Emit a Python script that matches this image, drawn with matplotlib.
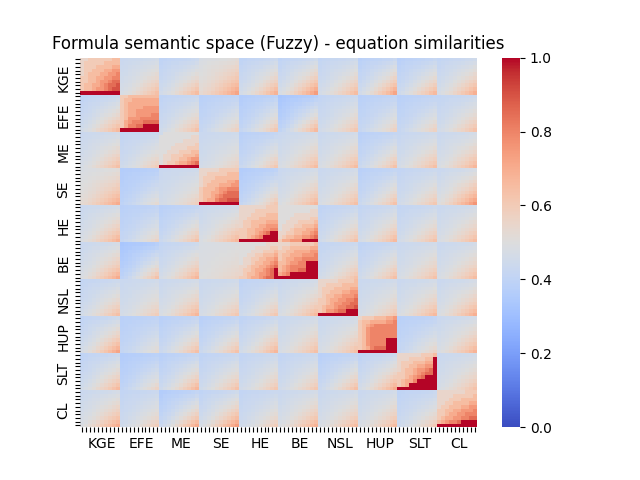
import matplotlib
matplotlib.use("Agg")
import matplotlib.pyplot as plt
import numpy as np
import seaborn as sns

EQUATIONS = ["KGE", "EFE", "ME", "SE", "HE", "BE", "NSL", "HUP", "SLT", "CL"]
N_VAR = 10  # variants per equation

# off-diagonal blocks: value at top-left corner / bottom-right corner
BLOCK_LO = [
    [0.00, 0.43, 0.40, 0.48, 0.40, 0.40, 0.41, 0.38, 0.38, 0.41],
    [0.40, 0.00, 0.40, 0.38, 0.36, 0.33, 0.41, 0.38, 0.38, 0.41],
    [0.43, 0.41, 0.00, 0.43, 0.38, 0.43, 0.43, 0.38, 0.42, 0.43],
    [0.48, 0.36, 0.43, 0.00, 0.36, 0.43, 0.43, 0.38, 0.41, 0.43],
    [0.43, 0.38, 0.38, 0.43, 0.00, 0.00, 0.40, 0.41, 0.41, 0.43],
    [0.43, 0.33, 0.41, 0.48, 0.00, 0.00, 0.41, 0.40, 0.43, 0.43],
    [0.41, 0.43, 0.43, 0.43, 0.40, 0.43, 0.00, 0.43, 0.43, 0.43],
    [0.40, 0.38, 0.38, 0.38, 0.40, 0.43, 0.43, 0.00, 0.38, 0.43],
    [0.40, 0.36, 0.38, 0.40, 0.41, 0.41, 0.38, 0.40, 0.00, 0.43],
    [0.43, 0.41, 0.36, 0.40, 0.41, 0.43, 0.43, 0.43, 0.40, 0.00],
]
BLOCK_HI = [
    [0.00, 0.64, 0.65, 0.72, 0.68, 0.74, 0.65, 0.72, 0.66, 0.69],
    [0.66, 0.00, 0.63, 0.57, 0.61, 0.66, 0.61, 0.57, 0.57, 0.63],
    [0.64, 0.59, 0.00, 0.57, 0.61, 0.65, 0.65, 0.63, 0.64, 0.67],
    [0.70, 0.53, 0.58, 0.00, 0.61, 0.67, 0.64, 0.63, 0.61, 0.76],
    [0.68, 0.56, 0.63, 0.67, 0.00, 0.00, 0.63, 0.66, 0.63, 0.65],
    [0.70, 0.63, 0.67, 0.56, 0.00, 0.00, 0.63, 0.64, 0.63, 0.65],
    [0.64, 0.59, 0.67, 0.61, 0.61, 0.66, 0.00, 0.61, 0.66, 0.69],
    [0.72, 0.53, 0.64, 0.63, 0.67, 0.64, 0.64, 0.00, 0.56, 0.68],
    [0.66, 0.56, 0.67, 0.63, 0.61, 0.61, 0.64, 0.70, 0.00, 0.63],
    [0.70, 0.59, 0.70, 0.74, 0.59, 0.68, 0.65, 0.65, 0.60, 0.00],
]

# typical shape inside an off-diagonal block (0 = top-left, 1 = bottom-right)
OFF_SHAPE = [
    [0.00, 0.02, 0.04, 0.05, 0.06, 0.07, 0.08, 0.10, 0.12, 0.15],
    [0.02, 0.05, 0.07, 0.09, 0.10, 0.12, 0.14, 0.16, 0.18, 0.22],
    [0.04, 0.07, 0.10, 0.12, 0.14, 0.16, 0.19, 0.22, 0.25, 0.30],
    [0.06, 0.09, 0.12, 0.15, 0.18, 0.21, 0.24, 0.28, 0.32, 0.37],
    [0.08, 0.11, 0.14, 0.18, 0.22, 0.26, 0.30, 0.34, 0.39, 0.45],
    [0.10, 0.13, 0.17, 0.21, 0.26, 0.31, 0.36, 0.41, 0.47, 0.53],
    [0.12, 0.16, 0.20, 0.25, 0.31, 0.37, 0.43, 0.49, 0.56, 0.62],
    [0.15, 0.19, 0.24, 0.30, 0.37, 0.44, 0.51, 0.58, 0.66, 0.73],
    [0.18, 0.23, 0.29, 0.36, 0.44, 0.52, 0.60, 0.68, 0.77, 0.86],
    [0.22, 0.28, 0.35, 0.43, 0.52, 0.61, 0.70, 0.79, 0.89, 1.00],
]

# level codes for the blocks read cell by cell
LEVELS = {"a": 0.45, "b": 0.50, "c": 0.55, "d": 0.60, "e": 0.65, "f": 0.70,
          "g": 0.75, "h": 0.80, "i": 0.85, "j": 0.90, "X": 1.00}

CELL_BLOCKS = {
    (0, 0): ["ccddddddee", "cdddddeeee", "cdddeeeeff", "cddeeeffgg", "cdeeeffggh",
             "ddeeffgghh", "ddeefgghii", "deeffghiij", "deefgghijj", "XXXXXXXXXX"],
    (1, 1): ["ddeeeeeeee", "deefffffff", "deffffffff", "deffffgggg", "deffgggggg",
             "deffgggghh", "deggghhhhh", "dfghhhiiii", "dfhhiiXXXX", "XXXXXXXXXX"],
    (2, 2): ["abbbbbbbbb", "bbbbbbbbcc", "bbbbbbcccc", "bbbbcccccd", "bbbccccddd",
             "bbcccdddee", "bccdddeeef", "bccddeefgg", "bcddeffghi", "XXXXXXXXXX"],
    (3, 3): ["cccccddddd", "ccdddddeee", "cdddeeeeee", "cddeeeeffg", "cdeeefffgg",
             "deeefgghhh", "deeffghiii", "deefghiiii", "deffhiijjj", "XXXXXXXXXX"],
    (4, 4): ["cccccccddd", "ccccdddddd", "cccddddeee", "ccdddeeeee", "cddeeeefff",
             "cddeeffggg", "ddeeffgghh", "ddeefghiXX", "ddefghXXXX", "XXXXXXXXXX"],
    (4, 5): ["bbbbbbbbbb", "bbbbbbbbcc", "bbbbcccccc", "bbbcccccdd", "bbcccdddde",
             "bcccddeeef", "bccdeeeffg", "ccddeeffgh", "cdeeffgghi", "dffgggXXXX"],
    (5, 4): ["bbbbbbbccc", "bbbbccccdd", "bbbcccddde", "bbccddeeef", "bccddeeffg",
             "bccdeeffgh", "ccdeeffghi", "cddeffghiX", "cdeefgghiX", "ddeffghiiX"],
    (5, 5): ["cccdddddde", "cddeeeeeff", "ddeeffffgg", "deefffgggh", "deffgghhhh",
             "eefgghhXXX", "efghhhhXXX", "efghhiiXXX", "fghXXXXXXX", "XXXXXXXXXX"],
    (6, 6): ["cccccdddde", "ccddddeeee", "cdddeeeeff", "cddeeeffgg", "cdeeffgggh",
             "ddeffgghhi", "ddefgghhii", "deffghhiij", "degghiiXXX", "XXXXXXXXXX"],
    (7, 7): ["cdddeeeffg", "deeffffggh", "defghhhhhh", "deghhhhhhh", "deghhhhhhh",
             "deghhhhhhh", "deghhhhXXX", "deghhhhXXX", "defhiiiXXX", "XXXXXXXXXX"],
    (8, 8): ["ccccccddde", "cccddddeeX", "cdddeeeffX", "cddeeffggX", "cdeefgghiX",
             "ddeefghiiX", "ddefghiXXX", "deffhXXXXX", "defXXXXXXX", "XXXXXXXXXX"],
    (9, 9): ["cccccccddd", "ccccddddde", "cccdddeeee", "ccddeeeeff", "cddeeeffgg",
             "ddeeffgggh", "ddeffgghhh", "deffgghhii", "efghhiXXXX", "XXXXXXXXXX"],
}


def build_matrix():
    n = len(EQUATIONS)
    shape = np.array(OFF_SHAPE)
    mat = np.zeros((n * N_VAR, n * N_VAR))
    for i in range(n):
        for j in range(n):
            if (i, j) in CELL_BLOCKS:
                block = np.array([[LEVELS[ch] for ch in row] for row in CELL_BLOCKS[(i, j)]])
            else:
                lo, hi = BLOCK_LO[i][j], BLOCK_HI[i][j]
                block = lo + (hi - lo) * shape
            mat[i * N_VAR:(i + 1) * N_VAR, j * N_VAR:(j + 1) * N_VAR] = block
    return mat


sim = build_matrix()
labels = [EQUATIONS[k // N_VAR] if k % N_VAR == N_VAR // 2 else "" for k in range(sim.shape[0])]

fig, ax = plt.subplots(figsize=(6.4, 4.8), dpi=100)
sns.heatmap(sim, cmap="coolwarm", vmin=0, vmax=1, xticklabels=labels,
            yticklabels=labels, ax=ax)
ax.set_title("Formula semantic space (Fuzzy) - equation similarities")
plt.setp(ax.get_xticklabels(), rotation=0)
plt.setp(ax.get_yticklabels(), rotation=90, va="center")

plt.savefig("out.png", dpi=100)
